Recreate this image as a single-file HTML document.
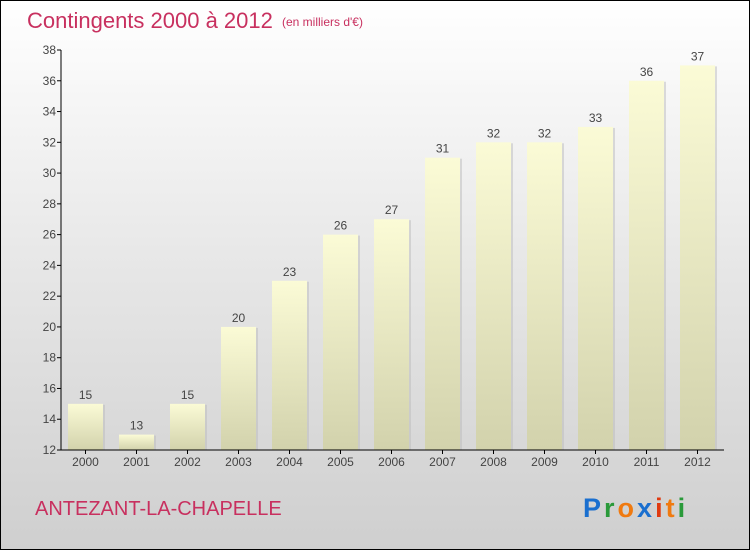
<!DOCTYPE html>
<html><head><meta charset="utf-8"><style>
html,body{margin:0;padding:0}
body{width:750px;height:550px;overflow:hidden;font-family:"Liberation Sans",sans-serif}
#wrap{position:relative;width:748px;height:548px;border:1px solid #000;background:linear-gradient(#ffffff 0%,#e6e6e6 50%,#cfcfcf 100%)}
</style></head><body>
<div id="wrap">
<svg id="chart" width="748" height="548" xmlns="http://www.w3.org/2000/svg">
<defs>
<linearGradient id="barg" x1="0" y1="0" x2="0" y2="1">
<stop offset="0" stop-color="#fbfbd6"/><stop offset="1" stop-color="#d2d2ac"/>
</linearGradient>
</defs>
<text x="26" y="27" font-size="22" fill="#c8305f">Contingents 2000 à 2012</text>
<text x="281" y="25" font-size="12" fill="#c8305f">(en milliers d'€)</text>
<text x="34" y="514" font-size="20" fill="#c8305f">ANTEZANT-LA-CHAPELLE</text>
<text x="582" y="516" font-size="27" font-weight="bold" letter-spacing="3"><tspan fill="#1a6fcf">P</tspan><tspan fill="#2a9a3a">r</tspan><tspan fill="#f07a10">o</tspan><tspan fill="#1a6fcf">x</tspan><tspan fill="#e03a10">i</tspan><tspan fill="#f07a10">t</tspan><tspan fill="#2a9a3a">i</tspan></text>
<g id="plot"></g>
</svg>
</div>
<script>
const years=["2000","2001","2002","2003","2004","2005","2006","2007","2008","2009","2010","2011","2012"];
const values=[15,13,15,20,23,26,27,31,32,32,33,36,37];
const yTicks=[12,14,16,18,20,22,24,26,28,30,32,34,36,38];
const NS="http://www.w3.org/2000/svg";
const g=document.getElementById('plot');
const y0=449,y1=49,vmin=12,vmax=38;
function yS(v){return y0-(v-vmin)/(vmax-vmin)*(y0-y1);}
function xS(i){return 84.5+i*51;}
function mk(t,a,txt){const e=document.createElementNS(NS,t);for(const k in a)e.setAttribute(k,a[k]);if(txt!==undefined)e.textContent=txt;g.appendChild(e);return e;}
values.forEach((v,i)=>{
 const x=xS(i)-17.5;
 const sh=mk('rect',{x:x+2,y:yS(v)+1,width:35,height:y0-yS(v)-1,fill:'#bbbbbb',opacity:0.5});
 
 
 const r=mk('rect',{x:x,y:yS(v),width:35,height:y0-yS(v),fill:'url(#barg)'});
 
 
 const t=mk('text',{x:xS(i),y:yS(v)-5,'font-size':12,fill:'#444','text-anchor':'middle'},String(v));
 
 
 const xl=mk('text',{x:xS(i),y:y0+16,'font-size':12,fill:'#444','text-anchor':'middle'},years[i]);
 
 
 const tk=mk('line',{x1:xS(i),x2:xS(i),y1:y0,y2:y0+4,stroke:'#000'});
 
 
});
yTicks.forEach(v=>{
 const tk=mk('line',{x1:56,x2:60,y1:yS(v),y2:yS(v),stroke:'#000'});
 
 
 const l=mk('text',{x:55,y:yS(v)+4,'font-size':12,fill:'#444','text-anchor':'end'},String(v));
 
 
});
const ya=mk('line',{x1:60,x2:60,y1:y1,y2:y0,stroke:'#000'});


const xa=mk('line',{x1:60,x2:723,y1:y0,y2:y0,stroke:'#000'});


</script>
</body></html>
